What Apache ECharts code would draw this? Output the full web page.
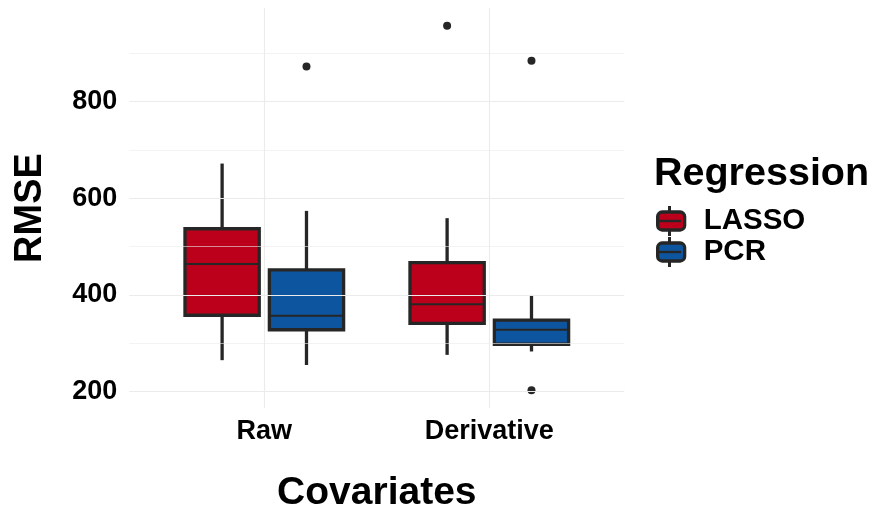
<!DOCTYPE html>
<html>
<head>
<meta charset="utf-8">
<script src="https://cdn.jsdelivr.net/npm/echarts@6/dist/echarts.min.js"></script>
<style>html,body{margin:0;padding:0;background:#fff}#chart{width:876px;height:511px}</style>
</head>
<body>
<div id="chart"></div>
<script>
// ---- data ----
const categories = ['Raw', 'Derivative'];
const groups = ['LASSO', 'PCR'];
// [lower whisker, Q1, median, Q3, upper whisker]
const lassoStats = [[265, 358, 464, 537, 672], [276, 341, 381, 467, 559]];
const pcrStats = [[255, 328, 357, 452, 574], [283, 298, 328, 348, 400]];
const lassoOutliers = [[], [957]];
const pcrOutliers = [[873], [885, 203]];
const yTickLabels = [200, 400, 600, 800];
const yMinorBreaks = [300, 500, 700, 900];

// ---- styling ----
const FONT = "'Liberation Sans', Arial, Helvetica, sans-serif";
const colors = { LASSO: '#BC001B', PCR: '#0E559F' };
const DARK = '#262626';
const GRID = '#EBEBEB';
const dodge = { LASSO: -0.1875, PCR: 0.1875 };
const halfBox = 0.165;

function boxData(stats) {
  return stats.map((s, i) => [i, ...s]);
}
function outlierData(list, g) {
  const out = [];
  list.forEach((vals, i) => vals.forEach(v => out.push([i + 1 + dodge[g], v])));
  return out;
}
function makeRender(g) {
  return function (params, api) {
    const ci = api.value(0);
    const xc = ci + 1 + dodge[g];
    const lo = api.value(1), q1 = api.value(2), med = api.value(3), q3 = api.value(4), hi = api.value(5);
    const pC = api.coord([xc, med]);
    const pL = api.coord([xc - halfBox, q3]);
    const pR = api.coord([xc + halfBox, q1]);
    const pHi = api.coord([xc, hi]);
    const pLo = api.coord([xc, lo]);
    const pQ3 = api.coord([xc, q3]);
    const pQ1 = api.coord([xc, q1]);
    const lineStyle = { stroke: DARK, lineWidth: 3.3 };
    return {
      type: 'group',
      children: [
        { type: 'line', shape: { x1: pHi[0], y1: pHi[1], x2: pQ3[0], y2: pQ3[1] }, style: lineStyle },
        { type: 'line', shape: { x1: pLo[0], y1: pLo[1], x2: pQ1[0], y2: pQ1[1] }, style: lineStyle },
        { type: 'rect', shape: { x: pL[0], y: pL[1], width: pR[0] - pL[0], height: pR[1] - pL[1] },
          style: { fill: colors[g], stroke: DARK, lineWidth: 3.3 } },
        { type: 'line', shape: { x1: pL[0], y1: pC[1], x2: pR[0], y2: pC[1] }, style: { stroke: DARK, lineWidth: 2 } }
      ]
    };
  };
}

const gridMarks = [
  ...yTickLabels.map(v => ({ yAxis: v, lineStyle: { width: 1.1 } })),
  ...yMinorBreaks.map(v => ({ yAxis: v, lineStyle: { width: 0.6 } })),
  ...categories.map((c, i) => ({ xAxis: i + 1, lineStyle: { width: 1.1 } }))
];

// legend key decorations (whisker stubs + median line)
const legLeft = 656, legTop = 206, keyW = 27, keyH = 18, rowH = 31, rowTextH = 30;
const legendGraphics = [];
groups.forEach((g, i) => {
  const top = legTop + (rowTextH - keyH) / 2 + i * rowH;
  const cx = legLeft + keyW / 2;
  legendGraphics.push(
    { type: 'line', z: 100, shape: { x1: cx, y1: top - 6, x2: cx, y2: top }, style: { stroke: DARK, lineWidth: 3 } },
    { type: 'line', z: 100, shape: { x1: cx, y1: top + keyH, x2: cx, y2: top + keyH + 6 }, style: { stroke: DARK, lineWidth: 3 } },
    { type: 'line', z: 100, shape: { x1: legLeft + 2, y1: top + keyH / 2, x2: legLeft + keyW - 2, y2: top + keyH / 2 }, style: { stroke: DARK, lineWidth: 2.4 } }
  );
});

const chart = echarts.init(document.getElementById('chart'), null, { renderer: 'canvas' });
chart.setOption({
  animation: false,
  backgroundColor: '#fff',
  textStyle: { fontFamily: FONT },
  title: {
    text: 'Regression', left: 654, top: 154, padding: 0,
    textStyle: { fontSize: 39.5, fontWeight: 'bold', color: '#000', fontFamily: FONT }
  },
  legend: {
    data: groups, orient: 'vertical', left: legLeft, top: legTop, padding: 0,
    itemWidth: keyW, itemHeight: keyH, itemGap: rowH - rowTextH, icon: 'roundRect',
    itemStyle: { borderColor: DARK, borderWidth: 3.3 },
    textStyle: { fontSize: 29.5, fontWeight: 'bold', color: '#000', fontFamily: FONT, lineHeight: rowTextH, padding: [0, 0, 0, 14] },
    selectedMode: false
  },
  graphic: legendGraphics,
  grid: { left: 129.3, right: 251.7, top: 8, bottom: 103, containLabel: false, outerBoundsMode: 'none' },
  xAxis: {
    type: 'value', min: 0.4, max: 2.6,
    name: 'Covariates', nameLocation: 'middle', nameGap: 66,
    nameTextStyle: { fontSize: 39, fontWeight: 'bold', color: '#000', fontFamily: FONT },
    axisLine: { show: false }, axisTick: { show: false }, splitLine: { show: false },
    axisLabel: {
      customValues: categories.map((c, i) => i + 1),
      formatter: v => categories[Math.round(v) - 1] || '',
      fontSize: 27, fontWeight: 'bold', color: '#000', margin: 10, fontFamily: FONT
    }
  },
  yAxis: {
    type: 'value', min: 166, max: 994,
    name: 'RMSE', nameLocation: 'middle', nameGap: 80, nameRotate: 90,
    nameTextStyle: { fontSize: 38, fontWeight: 'bold', color: '#000', fontFamily: FONT },
    axisLine: { show: false }, axisTick: { show: false }, splitLine: { show: false },
    axisLabel: {
      customValues: yTickLabels,
      fontSize: 27, fontWeight: 'bold', color: '#000', margin: 12, fontFamily: FONT
    }
  },
  series: [
    {
      name: 'gridlines', type: 'line', data: [], z: 0, silent: true,
      markLine: {
        silent: true, symbol: ['none', 'none'], label: { show: false },
        lineStyle: { color: GRID, type: 'solid' }, animation: false,
        data: gridMarks
      }
    },
    {
      name: 'LASSO', type: 'custom', renderItem: makeRender('LASSO'), z: 2,
      itemStyle: { color: colors.LASSO },
      encode: { x: 0, y: [1, 2, 3, 4, 5] },
      data: boxData(lassoStats)
    },
    {
      name: 'PCR', type: 'custom', renderItem: makeRender('PCR'), z: 2,
      itemStyle: { color: colors.PCR },
      encode: { x: 0, y: [1, 2, 3, 4, 5] },
      data: boxData(pcrStats)
    },
    {
      name: 'LASSO outliers', type: 'scatter', z: 3, symbolSize: 8,
      itemStyle: { color: DARK, opacity: 1 }, data: outlierData(lassoOutliers, 'LASSO')
    },
    {
      name: 'PCR outliers', type: 'scatter', z: 3, symbolSize: 8,
      itemStyle: { color: DARK, opacity: 1 }, data: outlierData(pcrOutliers, 'PCR')
    }
  ]
});
</script>
</body>
</html>
